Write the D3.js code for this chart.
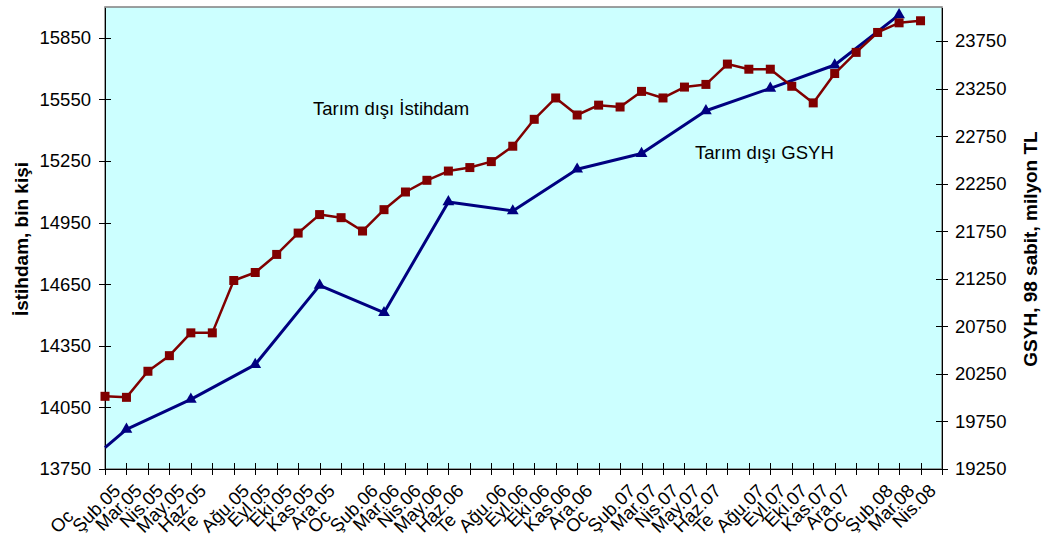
<!DOCTYPE html>
<html lang="tr">
<head>
  <meta charset="UTF-8">
  <title>Tarım dışı İstihdam ve GSYH</title>
  <script src="https://cdn.jsdelivr.net/npm/d3@7"></script>
  <style>
    body { margin: 0; background: #fff; }
    svg text { font-family: "Liberation Sans", Arial, sans-serif; fill: #000; }
    .axis text { font-size: 18.5px; }
    .axis path, .axis line { stroke: #000; shape-rendering: crispEdges; }
    .title { font-size: 19px; font-weight: bold; }
    .note { font-size: 18.5px; }
  </style>
</head>
<body>
<script>
  // months on the category axis
  const months = [
    'Oca.05','Şub.05','Mar.05','Nis.05','May.05','Haz.05','Tem.05','Ağu.05','Eyl.05','Eki.05','Kas.05','Ara.05',
    'Oca.06','Şub.06','Mar.06','Nis.06','May.06','Haz.06','Tem.06','Ağu.06','Eyl.06','Eki.06','Kas.06','Ara.06',
    'Oca.07','Şub.07','Mar.07','Nis.07','May.07','Haz.07','Tem.07','Ağu.07','Eyl.07','Eki.07','Kas.07','Ara.07',
    'Oca.08','Şub.08','Mar.08','Nis.08'
  ];
  // labels drawn cut short / drawn in another colour on the original
  const clippedMonths = ['Oca', 'Tem'];
  const markedMonths = ['Şub', 'Ağu'];

  // Tarım dışı istihdam, bin kişi (monthly, Oca.05 - Mar.08)
  const istihdam = [
    14104, 14099, 14226, 14302, 14413, 14413, 14668, 14707, 14795, 14899, 14989, 14974,
    14909, 15013, 15099, 15156, 15201, 15218, 15247, 15322, 15453, 15557, 15474, 15522,
    15513, 15589, 15557, 15610, 15623, 15722, 15697, 15697, 15614, 15533, 15676, 15779,
    15876, 15923, 15933
  ];

  // Tarım dışı GSYH, 98 sabit fiyatlarla milyon TL (quarterly, middle month)
  const gsyhMonths = ['Oca.05','Şub.05','May.05','Ağu.05','Kas.05','Şub.06','May.06',
                      'Ağu.06','Kas.06','Şub.07','May.07','Ağu.07','Kas.07','Şub.08'];
  const gsyh = [19474, 19667, 19982, 20348, 21180, 20893, 22058,
                21963, 22402, 22567, 23016, 23252, 23497, 24024];

  const leftTicks = [13750, 14050, 14350, 14650, 14950, 15250, 15550, 15850];
  const rightTicks = [19250, 19750, 20250, 20750, 21250, 21750, 22250, 22750, 23250, 23750];

  const SVGWIDTH = 1045;
  const SVGHEIGHT = 535;
  const plot = {left: 105, right: 942, top: 7, bottom: 469};

  const svg = d3.select('body').append('svg')
    .attr('width', SVGWIDTH)
    .attr('height', SVGHEIGHT);

  // scales
  const x = d3.scalePoint().domain(months).range([plot.left, plot.right]);
  const yL = d3.scaleLinear().domain([13750, 16000]).range([plot.bottom, plot.top]);
  const yR = d3.scaleLinear().domain([19250, 24107]).range([plot.bottom, plot.top]);

  // plot background
  svg.append('rect')
    .attr('x', plot.left).attr('y', plot.top)
    .attr('width', plot.right - plot.left).attr('height', plot.bottom - plot.top)
    .attr('fill', '#ccffff')
    .attr('stroke', '#808080')
    .attr('stroke-width', 1.5);

  // left axis
  const gL = svg.append('g').attr('class', 'axis')
    .attr('transform', `translate(${plot.left},0)`)
    .call(d3.axisLeft(yL).tickValues(leftTicks).tickFormat(d3.format('d'))
      .tickSizeOuter(0).tickSizeInner(6).tickPadding(8));
  gL.selectAll('.tick line').attr('x1', -6).attr('x2', 6);

  // right axis
  const gR = svg.append('g').attr('class', 'axis')
    .attr('transform', `translate(${plot.right},0)`)
    .call(d3.axisRight(yR).tickValues(rightTicks).tickFormat(d3.format('d'))
      .tickSizeOuter(0).tickSizeInner(6).tickPadding(7));
  gR.selectAll('.tick line').attr('x1', -6).attr('x2', 6);

  // bottom axis, labels added by hand below
  const gX = svg.append('g').attr('class', 'axis')
    .attr('transform', `translate(0,${plot.bottom})`)
    .call(d3.axisBottom(x).tickSizeOuter(0).tickSizeInner(6).tickFormat(''));
  gX.selectAll('.tick line').attr('y1', -6).attr('y2', 6);

  const labels = svg.append('g').attr('class', 'axis')
    .selectAll('text')
    .data(months)
    .enter()
    .append('text')
      .attr('text-anchor', 'end')
      .attr('transform', d => `translate(${x(d) - 5},${plot.bottom + 23}) rotate(-45)`)
      .attr('fill', d => markedMonths.includes(d.slice(0, 3)) ? '#6474b8' : '#000');

  labels.each(function (d) {
    const t = d3.select(this);
    if (clippedMonths.includes(d.slice(0, 3))) {
      // only the first letters show, keep the full label's place
      t.append('tspan').text(d.slice(0, 2));
      t.append('tspan').attr('fill-opacity', 0).text(d.slice(2));
    } else {
      t.text(d);
    }
  });

  // GSYH line
  const gsyhData = gsyhMonths.map((m, i) => ({m: m, v: gsyh[i]}));
  svg.append('path')
    .datum(gsyhData)
    .attr('fill', 'none')
    .attr('stroke', '#000080')
    .attr('stroke-width', 3)
    .attr('stroke-linejoin', 'round')
    .attr('d', d3.line().x(d => x(d.m)).y(d => yR(d.v)));

  svg.append('g').selectAll('path')
    .data(gsyhData.slice(1))
    .enter()
    .append('path')
      .attr('d', d3.symbol(d3.symbolTriangle, 60))
      .attr('transform', d => `translate(${x(d.m)},${yR(d.v)})`)
      .attr('fill', '#000080');

  // istihdam line
  const istData = istihdam.map((v, i) => ({m: months[i], v: v}));
  svg.append('path')
    .datum(istData)
    .attr('fill', 'none')
    .attr('stroke', '#800000')
    .attr('stroke-width', 2.5)
    .attr('stroke-linejoin', 'round')
    .attr('d', d3.line().x(d => x(d.m)).y(d => yL(d.v)));

  svg.append('g').selectAll('rect')
    .data(istData)
    .enter()
    .append('rect')
      .attr('x', d => x(d.m) - 4.5)
      .attr('y', d => yL(d.v) - 4.5)
      .attr('width', 9)
      .attr('height', 9)
      .attr('fill', '#800000');

  // series notes
  svg.append('text').attr('class', 'note')
    .attr('x', 313).attr('y', 115)
    .text('Tarım dışı İstihdam');
  svg.append('text').attr('class', 'note')
    .attr('x', 695).attr('y', 159)
    .text('Tarım dışı GSYH');

  // axis titles
  svg.append('text').attr('class', 'title')
    .attr('text-anchor', 'middle')
    .attr('transform', `translate(28,239) rotate(-90)`)
    .text('İstihdam, bin kişi');
  svg.append('text').attr('class', 'title')
    .attr('text-anchor', 'middle')
    .attr('transform', `translate(1037,249) rotate(-90)`)
    .text('GSYH, 98 sabit, milyon TL');
</script>
</body>
</html>
